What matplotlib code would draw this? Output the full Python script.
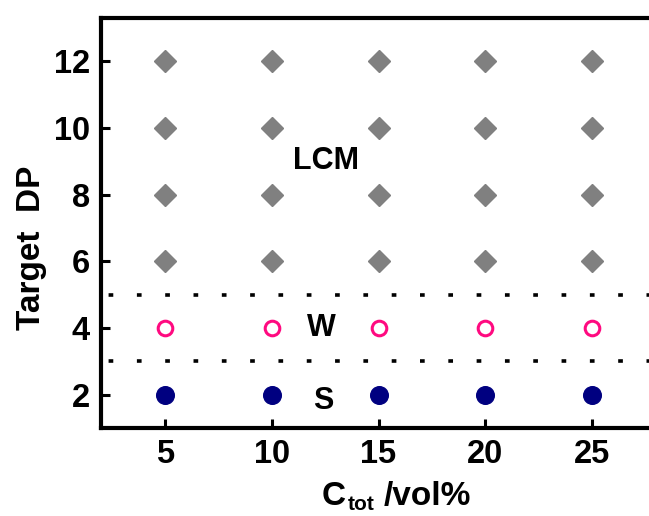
import matplotlib
matplotlib.use("Agg")
import matplotlib.pyplot as plt

plt.rcParams['font.family'] = ['Liberation Sans', 'DejaVu Sans']
plt.rcParams['font.weight'] = 'bold'

conc = [5, 10, 15, 20, 25]
lcm_dp = [6, 8, 10, 12]
w_dp = [4]
s_dp = [2]
boundaries = [3, 5]
xticks = [5, 10, 15, 20, 25]
yticks = [2, 4, 6, 8, 10, 12]

W, H = 649, 516
fig = plt.figure(figsize=(W/100, H/100), dpi=100)
ax = fig.add_axes([101/W, 1-428/H, (656-101)/W, (428-18)/H])

for dp in lcm_dp:
    ax.plot(conc, [dp]*len(conc), linestyle='none', marker='D', ms=11,
            color='#808080', mec='#808080', clip_on=False)
for dp in w_dp:
    ax.plot(conc, [dp]*len(conc), linestyle='none', marker='o', ms=10.5,
            mfc='none', mec='#FF0A80', mew=2.2)
for dp in s_dp:
    ax.plot(conc, [dp]*len(conc), linestyle='none', marker='o', ms=12.7,
            color='#000080')
for b in boundaries:
    ax.axhline(b, color='black', lw=2.6, linestyle=(5.74, (1.3, 6.54)),
               dash_capstyle='butt')

ax.text(12.55, 9.0, 'LCM', fontsize=22, fontweight='bold', ha='center', va='center')
ax.text(12.3, 4.0, 'W', fontsize=22, fontweight='bold', ha='center', va='center')
ax.text(12.4, 1.8, 'S', fontsize=22, fontweight='bold', ha='center', va='center')

ax.set_xlim(2, 28)
ax.set_ylim(1, 13.3)
ax.set_xticks(xticks)
ax.set_yticks(yticks)
ax.tick_params(direction='in', length=6.5, width=2.2, labelsize=23.5, pad=8)
for lab in ax.get_xticklabels() + ax.get_yticklabels():
    lab.set_fontweight('bold')
for s in ['left', 'bottom', 'top']:
    ax.spines[s].set_linewidth(3)
ax.spines['right'].set_visible(False)

# x label: C with subscript "tot", then "/vol%"
fig.text(322/W, 1-505/H, 'C', fontsize=24, fontweight='bold', ha='left', va='baseline')
fig.text(348/W, 1-510/H, 'tot', fontsize=15, fontweight='bold', ha='left', va='baseline')
fig.text(384/W, 1-505/H, '/vol%', fontsize=24, fontweight='bold', ha='left', va='baseline')

ax.set_ylabel('Target  DP', fontsize=24, fontweight='bold')
ax.yaxis.set_label_coords(-0.098, 0.439)

fig.savefig('out.png', dpi=100)
